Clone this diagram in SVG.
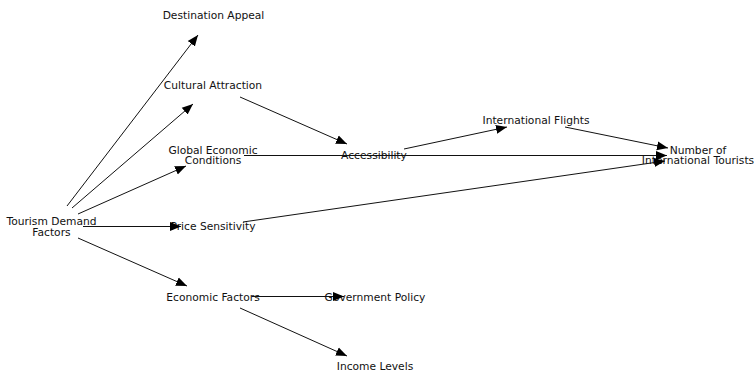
<svg xmlns="http://www.w3.org/2000/svg" width="754" height="371" viewBox="0 0 754 371">
<defs>
<marker id="ah" markerUnits="userSpaceOnUse" markerWidth="12" markerHeight="10" viewBox="0 0 12 10" refX="11" refY="5" orient="auto">
<path d="M0,0.5 L11,5 L0,9.5 Z" fill="#000"/>
</marker>
<style>
.lbl{font-family:"DejaVu Sans","Liberation Sans",sans-serif;font-size:10.7px;fill:#111;text-anchor:middle}
.e{stroke:#111;stroke-width:1;fill:none;marker-end:url(#ah)}
</style>
</defs>
<rect width="754" height="371" fill="#fff"/>
<g id="nodes">
<g id="tourism-demand-factors"><text class="lbl" x="51.5" y="225">Tourism Demand</text><text class="lbl" x="51.5" y="235.5">Factors</text></g>
<g id="destination-appeal"><text class="lbl" x="213.5" y="18.5">Destination Appeal</text></g>
<g id="cultural-attraction"><text class="lbl" x="213" y="88.5">Cultural Attraction</text></g>
<g id="global-economic-conditions"><text class="lbl" x="213" y="154">Global Economic</text><text class="lbl" x="213" y="164">Conditions</text></g>
<g id="price-sensitivity"><text class="lbl" x="213" y="230">Price Sensitivity</text></g>
<g id="economic-factors"><text class="lbl" x="213" y="300.5">Economic Factors</text></g>
<g id="accessibility"><text class="lbl" x="374" y="159">Accessibility</text></g>
<g id="government-policy"><text class="lbl" x="375" y="300.5">Government Policy</text></g>
<g id="income-levels"><text class="lbl" x="375" y="370">Income Levels</text></g>
<g id="international-flights"><text class="lbl" x="536" y="124">International Flights</text></g>
<g id="number-of-international-tourists"><text class="lbl" x="698" y="154">Number of</text><text class="lbl" x="698" y="164">International Tourists</text></g>
</g>
<g id="connectors">
<line class="e" x1="67" y1="206" x2="198" y2="35"/>
<line class="e" x1="72" y1="208" x2="193" y2="104"/>
<line class="e" x1="78" y1="214" x2="186" y2="166"/>
<line class="e" x1="83" y1="226.5" x2="181" y2="226.5"/>
<line class="e" x1="78" y1="238" x2="187" y2="286"/>
<line class="e" x1="240" y1="97" x2="347" y2="144"/>
<line class="e" x1="244" y1="155.5" x2="667" y2="155.5"/>
<line class="e" x1="404" y1="149" x2="507" y2="127"/>
<line class="e" x1="565" y1="127" x2="668" y2="148"/>
<line class="e" x1="243" y1="222" x2="665" y2="161"/>
<line class="e" x1="252" y1="296.5" x2="344" y2="296.5"/>
<line class="e" x1="240" y1="308" x2="347" y2="356"/>
</g>
</svg>
